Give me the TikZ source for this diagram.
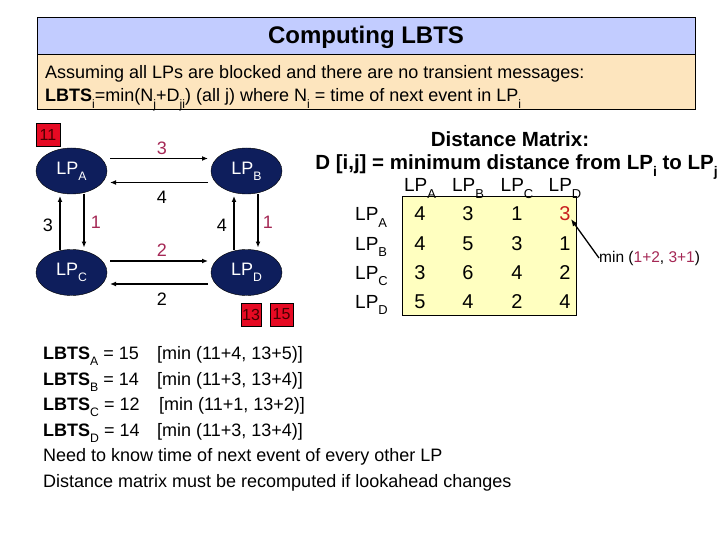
\documentclass[tikz,border=0pt]{standalone}
\usepackage{fontspec}
\setmainfont{Liberation Sans}
\usepackage{graphicx}
\usetikzlibrary{shapes.geometric,arrows.meta,calc}
\newcommand\lsub[1]{\raisebox{-0.34em}{\scalebox{0.68}{#1}}}
\definecolor{titleblue}{RGB}{194,204,255}
\definecolor{desctan}{RGB}{253,229,190}
\definecolor{matyellow}{RGB}{255,255,192}
\definecolor{navy}{RGB}{14,30,92}
\definecolor{boxred}{RGB}{230,10,35}
\definecolor{darktxt}{RGB}{70,0,0}
\definecolor{maroon}{RGB}{165,40,85}
\definecolor{hotred}{RGB}{200,30,30}
\tikzset{
  lp/.style={ellipse, draw=black, fill=navy, text=white, minimum width=71, minimum height=46, inner sep=0, font=\fontsize{18}{18}\selectfont},
  arr/.style={line width=1.3pt, -{Latex[length=6pt,width=5pt]}},
  tbox/.style={draw=black, fill=boxred, inner sep=0, minimum height=23, font=\fontsize{16}{16}\selectfont, text=darktxt},
  elab/.style={font=\fontsize{18}{18}\selectfont, inner sep=0},
  body/.style={font=\fontsize{18}{18}\selectfont, inner sep=0, anchor=base west},
  mtx/.style={font=\fontsize{20}{20}\selectfont, inner sep=0, anchor=base},
  rowl/.style={font=\fontsize{19}{19}\selectfont, inner sep=0, anchor=base west},
  coll/.style={font=\fontsize{19}{19}\selectfont, inner sep=0, anchor=base}
}
\begin{document}
\begin{tikzpicture}[x=1pt,y=-1pt]
\useasboundingbox (0,0) rectangle (720,540);
\fill[white] (0,0) rectangle (720,540);

% header
\node[draw=black, line width=0.8pt, fill=titleblue, minimum width=658, minimum height=37, inner sep=0] (title) at (366,35.5) {};
\node[anchor=base, inner sep=0, font=\fontsize{24}{24}\selectfont\bfseries] (titletext) at (366,44) {Computing LBTS};
\node[draw=black, line width=0.8pt, fill=desctan, minimum width=658, minimum height=55, inner sep=0, anchor=north] (desc) at (title.south) {};
\node[body] (d1) at (45,79) {Assuming all LPs are blocked and there are no transient messages:};
\node[body] (d2) at (45,102) {\textbf{LBTS}\lsub{i}=min(N\lsub{j}+D\lsub{ji}) (all j) where N\lsub{i} = time of next event in LP\lsub{i}};

% graph
\node[lp] (A) at (71.5,171) {LP\lsub{A}};
\node[lp] (B) at (246.5,171) {LP\lsub{B}};
\node[lp] (C) at (71.5,272.5) {LP\lsub{C}};
\node[lp] (D) at (246.5,272.5) {LP\lsub{D}};

\draw[arr] ($(A.center)+(38.5,-12.5)$) -- ($(B.center)+(-38.5,-12.5)$);
\draw[arr] ($(B.center)+(-38.5,11.5)$) -- ($(A.center)+(38.5,11.5)$);
\draw[arr] ($(C.center)+(38.5,-11.5)$) -- ($(D.center)+(-38.5,-11.5)$);
\draw[arr] ($(D.center)+(-38.5,11.5)$) -- ($(C.center)+(38.5,11.5)$);
\draw[arr] ($(A.center)+(12.5,23)$) -- ($(C.center)+(12.5,-25)$);
\draw[arr] ($(C.center)+(-11.5,-23)$) -- ($(A.center)+(-11.5,25)$);
\draw[arr] ($(B.center)+(11.5,23)$) -- ($(D.center)+(11.5,-25)$);
\draw[arr] ($(D.center)+(-12.5,-23)$) -- ($(B.center)+(-12.5,25)$);

\node[elab, text=maroon] (l1) at (162,148) {3};
\node[elab] (l2) at (162,197) {4};
\node[elab] (l3) at (48,225) {3};
\node[elab, text=maroon] (l4) at (96,222) {1};
\node[elab] (l5) at (222,225) {4};
\node[elab, text=maroon] (l6) at (268,222) {1};
\node[elab, text=maroon] (l7) at (162,250) {2};
\node[elab] (l8) at (162,299) {2};

\node[tbox, minimum width=24] (tA) at (48,135) {11};
\node[tbox, minimum width=20] (tD1) at (251,314.5) {13};
\node[tbox, minimum width=23] (tD2) at (281.5,314.5) {15};

% distance matrix
\node[anchor=base, inner sep=0, font=\fontsize{20.5}{20}\selectfont\bfseries] (dmt) at (510,147) {Distance Matrix:};
\node[anchor=base, inner sep=0, font=\fontsize{20.5}{20}\selectfont\bfseries] (dmd) at (516.5,170) {D [i,j] = minimum distance from LP\lsub{i} to LP\lsub{j}};

\node[draw=black, line width=0.8pt, fill=matyellow, anchor=north west, minimum width=174, minimum height=119, inner sep=0] (mat) at (402,196) {};

\node[coll] (hA) at (420,192) {LP\lsub{A}};
\node[coll] (hB) at (468,192) {LP\lsub{B}};
\node[coll] (hC) at (517,192) {LP\lsub{C}};
\node[coll] (hD) at (565,192) {LP\lsub{D}};

\node[rowl] (rA) at (355,221) {LP\lsub{A}};
\node[rowl] (rB) at (355,250) {LP\lsub{B}};
\node[rowl] (rC) at (355,279) {LP\lsub{C}};
\node[rowl] (rD) at (355,308) {LP\lsub{D}};

\node[mtx] (m11) at (420,221) {4};
\node[mtx] (m12) at (468,221) {3};
\node[mtx] (m13) at (517,221) {1};
\node[mtx, text=hotred] (m14) at (565,221) {3};
\node[mtx] (m21) at (420,250) {4};
\node[mtx] (m22) at (468,250) {5};
\node[mtx] (m23) at (517,250) {3};
\node[mtx] (m24) at (565,250) {1};
\node[mtx] (m31) at (420,279) {3};
\node[mtx] (m32) at (468,279) {6};
\node[mtx] (m33) at (517,279) {4};
\node[mtx] (m34) at (565,279) {2};
\node[mtx] (m41) at (420,308) {5};
\node[mtx] (m42) at (468,308) {4};
\node[mtx] (m43) at (517,308) {2};
\node[mtx] (m44) at (565,308) {4};

\node[anchor=west, inner sep=0, font=\fontsize{15.5}{16}\selectfont] (minl) at (599,258) {min (\textcolor{maroon}{1+2}, \textcolor{maroon}{3+1})};
\draw[line width=1.3pt, -{Latex[length=7pt,width=5.5pt]}] (minl.west) -- ($(m14.center)+(6,5)$);

% LBTS lines
\node[body] (b1) at (43,359.5) {\textbf{LBTS}\lsub{A} = 15};
\node[body] (b1r) at (157,359.5) {[min (11+4, 13+5)]};
\node[body] (b2) at (43,385) {\textbf{LBTS}\lsub{B} = 14};
\node[body] (b2r) at (157,385) {[min (11+3, 13+4)]};
\node[body] (b3) at (43,410.5) {\textbf{LBTS}\lsub{C} = 12};
\node[body] (b3r) at (159,410.5) {[min (11+1, 13+2)]};
\node[body] (b4) at (43,436) {\textbf{LBTS}\lsub{D} = 14};
\node[body] (b4r) at (157,436) {[min (11+3, 13+4)]};
\node[body] (b5) at (43,461.5) {Need to know time of next event of every other LP};
\node[body] (b6) at (43,487.5) {Distance matrix must be recomputed if lookahead changes};
\end{tikzpicture}
\end{document}
